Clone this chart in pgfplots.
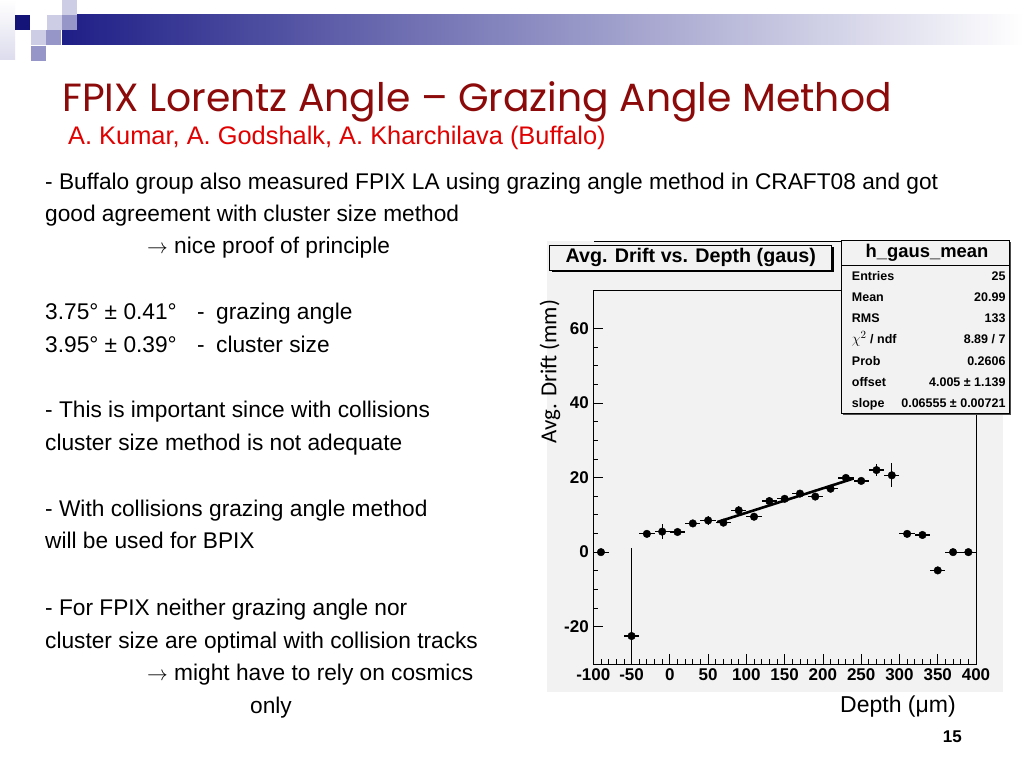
\documentclass[border=0pt]{standalone}
\usepackage{pgfplots}
\usepackage{pgfplotstable}
\pgfplotsset{compat=1.18}
\usepackage{fontspec}
\setmainfont{Liberation Sans}
\newfontfamily\gothic{Poppins}
\newfontfamily\calibri{Carlito}
\definecolor{titlered}{RGB}{140,10,10}
\definecolor{subred}{RGB}{225,0,0}
\definecolor{navyd}{RGB}{20,20,120}
\definecolor{navyb}{RGB}{30,30,135}
\definecolor{lav}{RGB}{205,205,230}
\definecolor{lavm}{RGB}{150,150,200}
\definecolor{canvas}{RGB}{242,242,242}
\newcommand{\arr}{\ensuremath{\rightarrow}}

\pgfplotstableread{
x y ex ey
-90 0 10 0
-50 -22.5 10 23.5
-30 4.9 10 0.4
-10 5.5 10 2.0
10 5.4 10 0.9
30 7.7 10 1.0
50 8.5 10 1.1
70 7.9 10 1.0
90 11.2 10 1.1
110 9.5 10 0.8
130 13.7 10 1.0
150 14.3 10 0.9
170 15.7 10 1.0
190 14.9 10 1.0
210 17.0 10 1.0
230 19.9 10 0.8
250 19.1 10 0.7
270 22.0 10 1.7
290 20.6 10 3.2
310 4.9 10 0.3
330 4.6 10 0.3
350 -4.9 10 0.3
370 0 10 0
390 0 10 0
}\datatab

\begin{document}
\begin{tikzpicture}[x=1pt,y=1pt]
% page
\fill[white] (0,0) rectangle (1024,768);
% header decoration
\shade[left color=navyb, right color=white] (62,723) rectangle (1024,753);
\shade[top color=white, bottom color=lav!70] (0,708) rectangle (15,768);
\fill[navyd] (15,738) rectangle (30,753);
\fill[lav] (47,738) rectangle (62,753);
\fill[lavm] (62,738) rectangle (77,753);
\fill[lav] (62,753) rectangle (77,768);
\fill[lav] (31,723) rectangle (46,738);
\fill[lavm] (46,723) rectangle (61,738);
\fill[lavm] (31,707) rectangle (46,722);
% titles
\node[anchor=base west, inner sep=0pt, text=titlered] at (62,656)
  {\gothic\fontsize{39.3}{44}\selectfont FPIX Lorentz Angle – Grazing Angle Method};
\node[anchor=base west, inner sep=0pt, text=subred] at (68,623)
  {\fontsize{25.4}{28}\selectfont A. Kumar, A. Godshalk, A. Kharchilava (Buffalo)};
% body text
\begin{scope}[every node/.style={anchor=base west, inner sep=0pt, font=\fontsize{22.7}{26}\selectfont}]
\node at (45,578) {- Buffalo group also measured FPIX LA using grazing angle method in CRAFT08 and got};
\node at (45,546) {good agreement with cluster size method};
\node at (147,514) {\arr{} nice proof of principle};
\node at (45,448) {3.75° ± 0.41°};
\node at (197,448) {-};
\node at (216,448) {grazing angle};
\node at (45,415) {3.95° ± 0.39°};
\node at (197,415) {-};
\node at (216,415) {cluster size};
\node at (45,350) {- This is important since with collisions};
\node at (45,317) {cluster size method is not adequate};
\node at (45,251) {- With collisions grazing angle method};
\node at (45,219) {will be used for BPIX};
\node at (45,153) {- For FPIX neither grazing angle nor};
\node at (45,120) {cluster size are optimal with collision tracks};
\node at (147,88) {\arr{} might have to rely on cosmics};
\node at (250,55) {only};
\end{scope}
\node[anchor=base east, inner sep=0pt, font=\fontsize{17}{20}\selectfont\bfseries] at (962,26) {15};
% canvas
\fill[canvas] (547,76) rectangle (1003,527);
\draw[line width=0.8pt] (594,527) -- (977,527);
\coordinate (axpos) at (593.3,104);
\begin{axis}[
  at={(axpos)}, anchor=south west,
  scale only axis, width=382.7pt, height=374pt,
  xmin=-100, xmax=400, ymin=-30, ymax=70.3,
  axis line style={line width=0.8pt},
  xtick={-100,-50,...,400}, minor x tick num=4,
  ytick={-20,0,20,40,60}, minor y tick num=3,
  xtick pos=bottom, ytick pos=left, tick align=inside,
  major tick length=10pt, minor tick length=5pt,
  tick style={line width=0.8pt, black},
  /pgf/number format/assume math mode=true,
  ticklabel style={font=\fontsize{17}{17}\selectfont\bfseries},
  xticklabel style={yshift=-1pt},
  yticklabel style={xshift=-1pt},
  xlabel={Depth (μm)},
  ylabel={\calibri Avg. Drift (mm)},
  every axis x label/.style={at={(axis description cs:0.6447,-0.131)}, anchor=base west, inner sep=0pt, font=\fontsize{23}{26}\selectfont},
  every axis y label/.style={at={(axis description cs:-0.1131,0.782)}, anchor=center, rotate=90, inner sep=0pt, font=\fontsize{22.9}{26}\selectfont},
]
\addplot[only marks, mark=*, mark size=3.8pt, black,
  error bars/.cd, x dir=both, x explicit, y dir=both, y explicit,
  error mark=none, error bar style={line width=1.2pt, black}]
  table[x=x, y=y, x error=ex, y error=ey] {\datatab};
\addplot[black, line width=2.6pt] coordinates {(62,8.069) (240,19.737)};
\end{axis}
% title box
\fill[black] (551.7,496) rectangle (833.7,521);
\draw[fill=canvas, line width=0.8pt] (549.7,498) rectangle (831.7,523);
\node[font=\fontsize{19.7}{22}\selectfont\bfseries] at (690.7,510.5) {Avg. Drift vs. Depth (gaus)};
% stats box
\fill[black!70] (843,353) rectangle (1011,526);
\draw[fill=canvas, line width=0.8pt] (841,355) rectangle (1009,528);
\draw[line width=0.8pt] (841,503) -- (1009,503);
\node[font=\fontsize{18.4}{22}\selectfont\bfseries] at (927,515.5) {h\_gaus\_mean};
\begin{scope}[every node/.style={inner sep=0pt, font=\fontsize{12.5}{14}\selectfont\bfseries}]
\node[anchor=base west] at (851.7,487.5) {Entries};
\node[anchor=base east] at (1005.7,487.5) {25};
\node[anchor=base west] at (851.7,466.2) {Mean};
\node[anchor=base east] at (1005.7,466.2) {20.99};
\node[anchor=base west] at (851.7,445.2) {RMS};
\node[anchor=base east] at (1005.7,445.2) {133};
\node[anchor=base west] at (851.7,424.2) {{\fontsize{15}{16}\selectfont$\chi^{2}$} / ndf};
\node[anchor=base east] at (1005.7,424.2) {8.89 / 7};
\node[anchor=base west] at (851.7,402.8) {Prob};
\node[anchor=base east] at (1005.7,402.8) {0.2606};
\node[anchor=base west] at (851.7,381.8) {offset};
\node[anchor=base east] at (1005.7,381.8) {4.005 ± 1.139};
\node[anchor=base west] at (851.7,360.8) {slope};
\node[anchor=base east] at (1005.7,360.8) {0.06555 ± 0.00721};
\end{scope}
\end{tikzpicture}
\end{document}
